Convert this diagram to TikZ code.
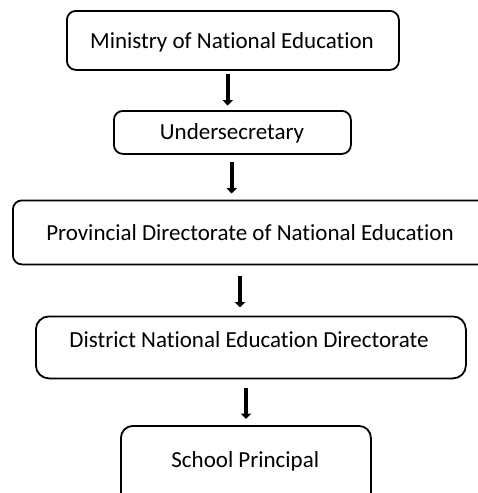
\documentclass[tikz,border=0pt]{standalone}
\usepackage{fontspec}
\setmainfont{Carlito}[Ligatures={NoCommon}]
\usetikzlibrary{arrows.meta}
\begin{document}
\begin{tikzpicture}[x=1pt,y=-1pt,
  box/.style={draw=black,line width=1.8pt,rounded corners=9pt,inner sep=0pt,anchor=north west},
  lbl/.style={inner sep=0pt,anchor=base,font=\fontsize{23}{25}\selectfont},
  arr/.style={line width=4pt,-{Triangle[width=10.5pt,length=5.5pt]}}]
\useasboundingbox (0,0) rectangle (478,493);
\clip (0,0) rectangle (478,493);
\node[box,minimum width=332pt,minimum height=59pt] (b1) at (66,10) {};
\node[box,minimum width=237pt,minimum height=43pt] (b2) at (113,110) {};
\node[box,minimum width=476pt,minimum height=64pt] (b3) at (12,199.5) {};
\node[box,rounded corners=13pt,minimum width=430pt,minimum height=62pt] (b4) at (35,315.5) {};
\node[box,rounded corners=12pt,minimum width=250pt,minimum height=90pt] (b5) at (120,425) {};
\node[lbl] (t1) at (232,48) {Ministry of National Education};
\node[lbl] (t2) at (232,139.5) {Undersecretary};
\node[lbl] (t3) at (250,240) {Provincial Directorate of National Education};
\node[lbl] (t4) at (249,347) {District National Education Directorate};
\node[lbl] (t5) at (245.3,467) {School Principal};
\coordinate (a1s) at (227.7,74);  \coordinate (a1e) at (227.7,105.5);
\coordinate (a2s) at (231.7,162); \coordinate (a2e) at (231.7,193.5);
\coordinate (a3s) at (240,276); \coordinate (a3e) at (240,307.5);
\coordinate (a4s) at (246,388); \coordinate (a4e) at (246,419);
\draw[arr] (a1s) -- (a1e);
\draw[arr] (a2s) -- (a2e);
\draw[arr] (a3s) -- (a3e);
\draw[arr] (a4s) -- (a4e);
\end{tikzpicture}
\end{document}
